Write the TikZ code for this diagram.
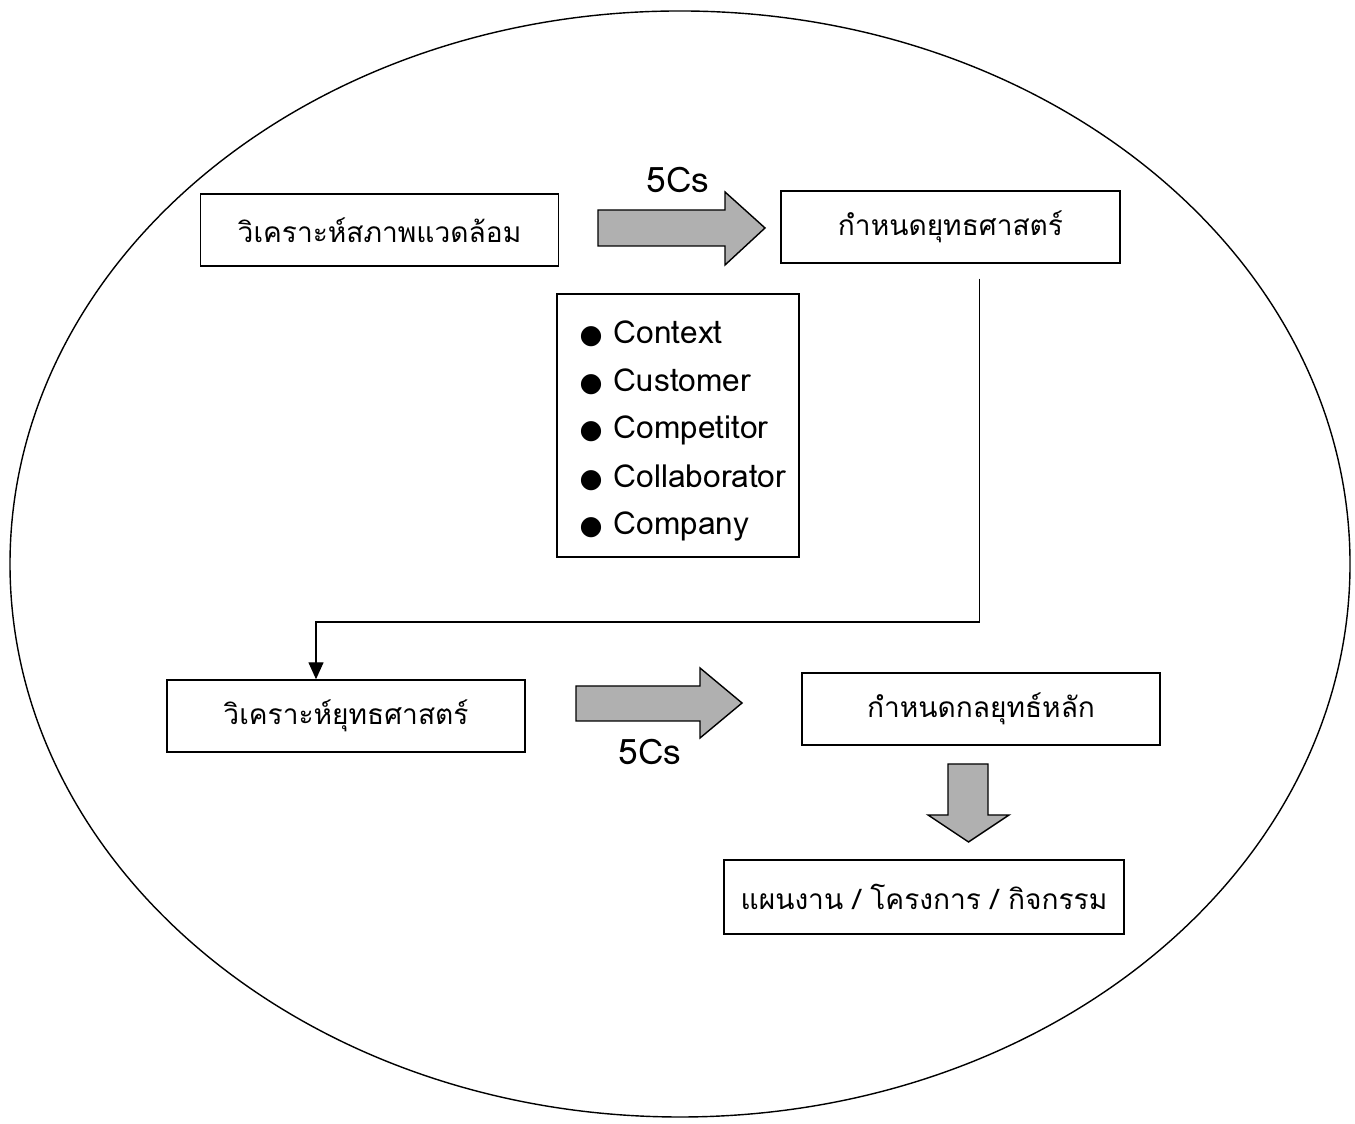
\documentclass[tikz,border=0pt]{standalone}
\usepackage{fontspec}
\setmainfont[Script=Thai]{Loma}
\newfontfamily\symfont{DejaVu Sans}
\usetikzlibrary{arrows.meta}
\tikzset{
  stepbox/.style={draw, thin, minimum width=3.58cm, minimum height=0.72cm, font=\fontsize{8}{10}\selectfont},
  fatarrow/.style={draw=black, thin, fill=gray!62},
  item/.style={anchor=west, font=\fontsize{9}{11}\selectfont, inner sep=0pt}
}
\newcommand{\dotmark}{{\symfont\fontsize{7.5}{9}\selectfont ●}}
\begin{document}
\begin{tikzpicture}
  \useasboundingbox (0,0) rectangle (13.55,11.24);
  \draw[thin] (6.80,5.60) ellipse (6.70cm and 5.53cm);

  % main boxes
  \node[stepbox] (envA) at (3.795,8.94) {วิเคราะห์สภาพแวดล้อม};
  \node[stepbox, minimum width=3.39cm] (stratB) at (9.505,8.97) {กำหนดยุทธศาสตร์};
  \node[stepbox] (analC) at (3.46,4.08) {วิเคราะห์ยุทธศาสตร์};
  \node[stepbox] (coreD) at (9.81,4.15) {กำหนดกลยุทธ์หลัก};
  \node[stepbox, minimum width=4.0cm, minimum height=0.74cm] (planE) at (9.24,2.27) {แผนงาน / โครงการ / กิจกรรม};

  % list of the 5Cs
  \node[draw, thin, minimum width=2.42cm, minimum height=2.63cm] (list) at (6.78,6.985) {};
  \foreach \name [count=\i] in {Context, Customer, Competitor, Collaborator, Company}
    \node[item] (c\i) at (5.79,{7.90-0.48*(\i-1)}) {\dotmark\hspace{0.35em}\name};

  % block arrows
  \filldraw[fatarrow] (5.98,9.14) -- (7.25,9.14) -- (7.25,9.32) -- (7.65,8.96)
    -- (7.25,8.59) -- (7.25,8.78) -- (5.98,8.78) -- cycle;
  \node[font=\fontsize{10}{12}\selectfont] (fiveA) at (6.78,9.44) {5Cs};
  \filldraw[fatarrow] (5.76,4.38) -- (7.00,4.38) -- (7.00,4.56) -- (7.42,4.21)
    -- (7.00,3.86) -- (7.00,4.03) -- (5.76,4.03) -- cycle;
  \node[font=\fontsize{10}{12}\selectfont] (fiveB) at (6.50,3.72) {5Cs};
  \filldraw[fatarrow] (9.48,3.60) -- (9.88,3.60) -- (9.88,3.09) -- (10.09,3.09)
    -- (9.685,2.82) -- (9.28,3.09) -- (9.48,3.09) -- cycle;

  % connector
  \coordinate (bend) at (3.16,5.02);
  \draw[thin, -{Triangle[length=0.17cm, width=0.15cm]}] ([xshift=0.29cm, yshift=-0.15cm]stratB.south) |- (bend) -- (bend |- analC.north);
\end{tikzpicture}
\end{document}
